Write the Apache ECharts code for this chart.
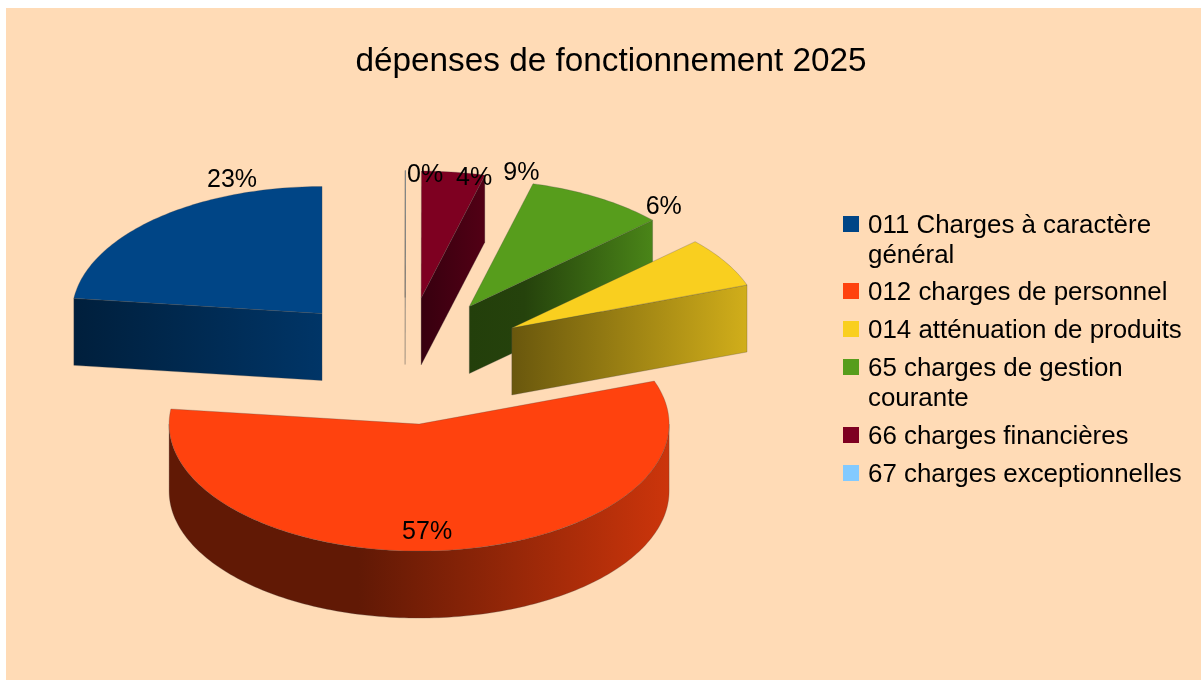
<!DOCTYPE html>
<html lang="fr">
<head>
    <meta charset="UTF-8">
    <title>dépenses de fonctionnement 2025</title>
    <script src="https://cdn.jsdelivr.net/npm/echarts@6/dist/echarts.min.js"></script>
    <style>
        html, body { margin: 0; padding: 0; background: #fff; }
        #panel { position: absolute; left: 6px; top: 8px; width: 1195px; height: 672px; background: #ffdbb6; }
        #main { position: absolute; left: 0; top: 0; width: 1201px; height: 680px; }
    </style>
</head>
<body>
<div id="panel"></div>
<div id="main"></div>

<script type="text/javascript">
    var categories = [
        '011 Charges à caractère\ngénéral',
        '012 charges de personnel',
        '014 atténuation de produits',
        '65 charges de gestion\ncourante',
        '66 charges financières',
        '67 charges exceptionnelles'
    ];
    var percents = [23.1, 57.4, 6.4, 9.0, 4.08, 0.02];

    // look of the slices, same order as categories
    var colors = ['#004586', '#ff420e', '#f9cf1f', '#579d1c', '#7e0021', '#83caff'];
    var sideShades = [
        [[0, 0.45], [1, 0.77]],
        [[0, 0.38], [0.38, 0.38], [1, 0.8]],
        [[0, 0.42], [1, 0.84]],
        [[0, 0.40], [0.3, 0.42], [1, 0.85]],
        [[0, 0.44], [1, 0.65]],
        [[0, 0.6], [1, 0.6]]
    ];
    var labelOffsets = [[-90, -133], [8, 108], [152, -121], [52, -133], [53, -120], [20, -122]];
    var legendCenters = [224, 291, 329, 367, 435, 473];

    // pie projection
    var centerX = 405, centerY = 361;
    var radiusX = 250, radiusY = 127, depth = 67, explode = 125;
    var edge = 'rgba(70,70,70,0.45)';

    var total = percents.reduce(function (a, b) { return a + b; }, 0);
    var slices = [];
    var acc = 0;
    percents.forEach(function (v) {
        var start = acc / total * Math.PI * 2;
        acc += v;
        var end = acc / total * Math.PI * 2;
        var mid = (start + end) / 2;
        slices.push({
            start: start,
            end: end,
            apex: [centerX - explode * Math.sin(mid), centerY - explode * radiusY / radiusX * Math.cos(mid)]
        });
    });

    // angles run counter-clockwise from twelve o'clock
    function rimPoint(apex, a, drop) {
        return [apex[0] - radiusX * Math.sin(a), apex[1] - radiusY * Math.cos(a) + drop];
    }

    function arcPoints(apex, from, to, drop) {
        var pts = [];
        var n = Math.max(2, Math.ceil((to - from) / 0.02));
        for (var i = 0; i <= n; i++) {
            pts.push(rimPoint(apex, from + (to - from) * i / n, drop));
        }
        return pts;
    }

    function shade(hex, f) {
        var c = echarts.color.parse(hex);
        return 'rgb(' + Math.round(c[0] * f) + ',' + Math.round(c[1] * f) + ',' + Math.round(c[2] * f) + ')';
    }

    function sideFill(i) {
        var stops = sideShades[i].map(function (s) {
            return { offset: s[0], color: shade(colors[i], s[1]) };
        });
        return new echarts.graphic.LinearGradient(0, 0, 1, 0, stops);
    }

    function poly(points, fill) {
        return {
            type: 'polygon',
            shape: { points: points },
            style: { fill: fill, stroke: edge, lineWidth: 0.6 }
        };
    }

    function radialFace(apex, a, fill) {
        var p = rimPoint(apex, a, 0);
        return poly([apex, p, [p[0], p[1] + depth], [apex[0], apex[1] + depth]], fill);
    }

    function renderSlice(i) {
        return function () {
            var s = slices[i];
            var children = [];
            // only the faces turned towards the viewer
            if (Math.sin(s.start) < -1e-6) {
                children.push(radialFace(s.apex, s.start, sideFill(i)));
            }
            if (Math.sin(s.end) > 1e-6) {
                children.push(radialFace(s.apex, s.end, sideFill(i)));
            }
            var wallFrom = Math.max(s.start, Math.PI / 2);
            var wallTo = Math.min(s.end, Math.PI * 1.5);
            if (wallTo > wallFrom) {
                var wall = arcPoints(s.apex, wallFrom, wallTo, 0)
                    .concat(arcPoints(s.apex, wallFrom, wallTo, depth).reverse());
                children.push(poly(wall, sideFill(i)));
            }
            children.push(poly([s.apex].concat(arcPoints(s.apex, s.start, s.end, 0)), colors[i]));
            return { type: 'group', children: children };
        };
    }

    function renderLabel(params, api) {
        var i = params.dataIndex;
        return {
            type: 'text',
            style: {
                text: Math.round(api.value(0) / total * 100) + '%',
                x: slices[i].apex[0] + labelOffsets[i][0],
                y: slices[i].apex[1] + labelOffsets[i][1],
                fill: '#000',
                font: '25px "Liberation Sans"',
                align: 'center',
                verticalAlign: 'middle'
            }
        };
    }

    var series = categories.map(function (name, i) {
        return {
            name: name,
            type: 'custom',
            coordinateSystem: 'none',
            silent: true,
            z: Math.round(slices[i].apex[1]),
            itemStyle: { color: colors[i] },
            renderItem: renderSlice(i),
            data: [[percents[i]]]
        };
    });
    series.push({
        type: 'custom',
        coordinateSystem: 'none',
        silent: true,
        z: 1000,
        renderItem: renderLabel,
        data: percents.map(function (v) { return [v]; })
    });

    // one legend per entry. The icon is a 16px square at the top of a taller box,
    // so the swatch sits on the first line of the name and not in the middle of it
    var legends = categories.map(function (name, i) {
        var boxHeight = name.indexOf('\n') >= 0 ? 50 : 20;
        return {
            data: [name],
            left: 843,
            top: legendCenters[i] - 13,
            padding: 0,
            selectedMode: false,
            itemWidth: 16,
            itemHeight: boxHeight,
            itemGap: 0,
            icon: 'path://M0 0H16V16H0Z M0 ' + boxHeight + 'H16V' + boxHeight + 'H0Z',
            textStyle: {
                fontFamily: 'Liberation Sans',
                fontSize: 25.9,
                lineHeight: 30,
                color: '#000',
                padding: [0, 0, 0, 4]
            }
        };
    });

    var chart = echarts.init(document.getElementById('main'), null, { renderer: 'canvas' });
    chart.setOption({
        animation: false,
        backgroundColor: 'transparent',
        title: {
            text: 'dépenses de fonctionnement 2025',
            left: 611,
            top: 62,
            textAlign: 'center',
            textVerticalAlign: 'middle',
            padding: 0,
            textStyle: { fontFamily: 'Liberation Sans', fontSize: 33.3, fontWeight: 'normal', color: '#000' }
        },
        legend: legends,
        series: series
    });
</script>
</body>
</html>
